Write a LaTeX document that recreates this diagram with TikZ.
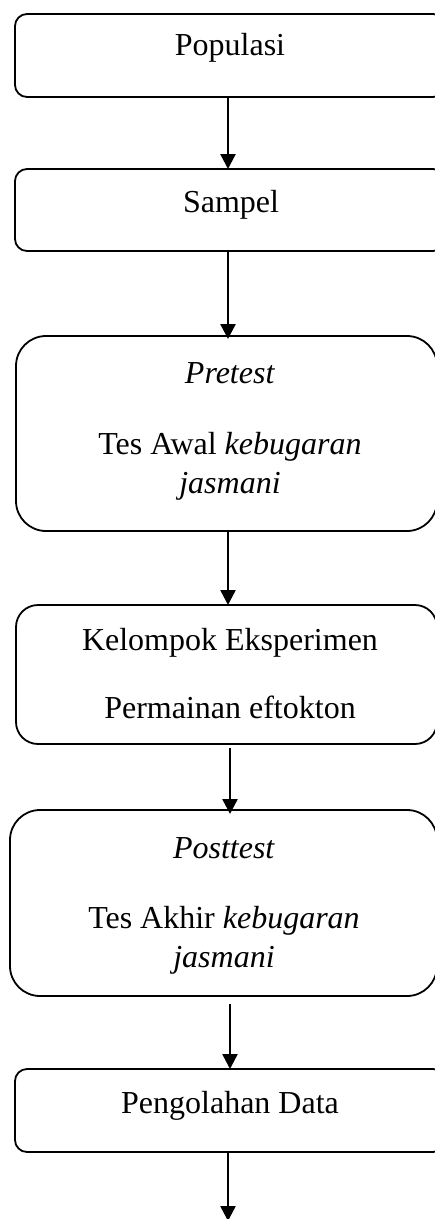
\documentclass[tikz,border=0pt]{standalone}
\usepackage{fontspec}
\setmainfont{Liberation Serif}
\usetikzlibrary{arrows.meta}
\tikzset{
  flowbox/.style={draw=black, line width=1.8pt, inner sep=0pt, outer sep=0pt},
  txt/.style={anchor=base, inner sep=0pt, font=\fontsize{32}{38}\selectfont},
  arr/.style={draw=black, line width=2.4pt, -{Triangle[width=15pt,length=15pt]}}
}
\begin{document}
\begin{tikzpicture}[x=1pt,y=-1pt]
\useasboundingbox (0,0) rectangle (435,1219);
\clip (0,0) rectangle (435,1219);
% boxes
\node[flowbox, rounded corners=12pt, minimum width=430pt, minimum height=83pt] (pop) at (230,55.5) {};
\node[flowbox, rounded corners=12pt, minimum width=430pt, minimum height=82pt] (samp) at (230,210) {};
\node[flowbox, rounded corners=30pt, minimum width=421pt, minimum height=195pt] (pre) at (226.5,433.5) {};
\node[flowbox, rounded corners=22pt, minimum width=421pt, minimum height=139pt] (kel) at (226.5,674.5) {};
\node[flowbox, rounded corners=30pt, minimum width=427pt, minimum height=186pt] (post) at (223.5,903) {};
\node[flowbox, rounded corners=12pt, minimum width=430pt, minimum height=83pt] (olah) at (230,1110.5) {};
\coordinate (end) at (228,1221);
% texts
\node[txt] (t1) at (230,55) {Populasi};
\node[txt] (t2) at (231,212) {Sampel};
\node[txt] (t3) at (230,383) {\textit{Pretest}};
\node[txt] (t4) at (230,454) {Tes Awal \textit{kebugaran}};
\node[txt] (t5) at (230,493) {\textit{jasmani}};
\node[txt] (t6) at (230,650) {Kelompok Eksperimen};
\node[txt] (t7) at (230,718) {Permainan eftokton};
\node[txt] (t8) at (224,858) {\textit{Posttest}};
\node[txt] (t9) at (224,928) {Tes Akhir \textit{kebugaran}};
\node[txt] (t10) at (224,967) {\textit{jasmani}};
\node[txt] (t11) at (230,1113) {Pengolahan Data};
% connectors
\draw[arr] (pop.south -| 228,0) -- (samp.north -| 228,0);
\draw[arr] (samp.south -| 228,0) -- ([yshift=-3pt]pre.north -| 228,0);
\draw[arr] (pre.south -| 228,0) -- (kel.north -| 228,0);
\draw[arr] ([yshift=-4pt]kel.south -| 230,0) -- ([yshift=-4pt]post.north -| 230,0);
\draw[arr] ([yshift=-8pt]post.south -| 230,0) -- (olah.north -| 230,0);
\draw[arr] (olah.south -| 228,0) -- (end);
\end{tikzpicture}
\end{document}
